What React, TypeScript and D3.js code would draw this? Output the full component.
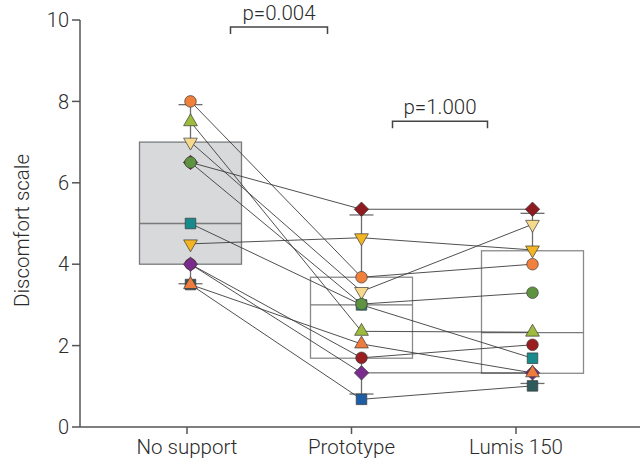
import React from "react";
import * as d3 from "d3";

const categories = ["No support", "Prototype", "Lumis 150"];
const yTicks = [0, 2, 4, 6, 8, 10];

// per-subject values: [No support, Prototype, Lumis 150]
const subjectNames = ["darkSquare", "redDiamond", "tealSquare", "redCircle", "orangeCircle", "ygTriangle", "lightTriDown", "greenCircle", "yellowTriDown", "purpleDiamond", "orangeTriangle"];
const noSupport = [3.5, 6.5, 5.0, 4.0, 8.0, 7.5, 7.0, 6.5, 4.5, 4.0, 3.5];
const prototype = [0.68, 5.35, 3.0, 1.7, 3.68, 2.35, 3.33, 3.02, 4.65, 1.33, 2.04];
const lumis = [1.01, 5.35, 1.69, 2.02, 4.0, 2.33, 4.98, 3.3, 4.35, 1.33, 1.33];
const shapes = ["square", "diamond", "square", "circle", "circle", "triUp", "triDown", "circle", "triDown", "diamond", "triUp"];
const colors = ["#2e5a5c", "#8e1b1f", "#198a8c", "#9a1d1f", "#f0803c", "#9dbb3c", "#f6d98c", "#5e9441", "#f4b522", "#7a2c8c", "#ee7c3e"];
const prototypeColorOverride: Record<number, string> = { 0: "#1e5ea6" };

// box stats per category
const boxLow = [3.52, 0.81, 1.07];
const boxQ1 = [4.0, 1.69, 1.32];
const boxMedian = [5.0, 3.0, 2.32];
const boxQ3 = [7.0, 3.68, 4.33];
const boxHigh = [7.92, 5.21, 5.25];

const pLabels = ["p=0.004", "p=1.000"];
const pPairs = [[0, 1], [1, 2]];
const pLevels = [9.83, 7.51];

const W = 640, H = 462;

function symbolPath(shape: string) {
  if (shape === "circle") return d3.symbol(d3.symbolCircle, 105)()!;
  if (shape === "square") return d3.symbol(d3.symbolSquare, 112)()!;
  if (shape === "diamond") return d3.symbol(d3.symbolSquare, 104)()!;
  return d3.symbol(d3.symbolTriangle, 82)()!;
}
function symbolRotate(shape: string) {
  if (shape === "diamond") return 45;
  if (shape === "triDown") return 180;
  return 0;
}

export default function App() {
  const y = d3.scaleLinear().domain([0, 10]).range([427, 20]);
  const xTick = d3.scalePoint<string>().domain(categories).range([187, 516]);
  const xMark = d3.scalePoint<string>().domain(categories).range([190.5, 532.5]);
  const groups = [noSupport, prototype, lumis];
  const boxW = 102;
  const capW = 24;
  const textColor = "#2b2b2b";
  const font = "Roboto, 'DejaVu Sans', sans-serif";

  return (
    <svg width={W} height={H} style={{ position: "absolute", left: 0, top: 0 }} fontFamily={font} fontWeight={300}>
      <rect width={W} height={H} fill="#fff" />
      {categories.map((c, i) => {
        const cx = xMark(c)!;
        return (
          <g key={c}>
            <line x1={cx} x2={cx} y1={y(boxHigh[i])} y2={y(boxQ3[i])} stroke="#6e6e6e" strokeWidth={1.3} />
            <line x1={cx} x2={cx} y1={y(boxQ1[i])} y2={y(boxLow[i])} stroke="#6e6e6e" strokeWidth={1.3} />
            <line x1={cx - capW / 2} x2={cx + capW / 2} y1={y(boxHigh[i])} y2={y(boxHigh[i])} stroke="#6e6e6e" strokeWidth={1.3} />
            <line x1={cx - capW / 2} x2={cx + capW / 2} y1={y(boxLow[i])} y2={y(boxLow[i])} stroke="#6e6e6e" strokeWidth={1.3} />
            <rect x={cx - boxW / 2} y={y(boxQ3[i])} width={boxW} height={y(boxQ1[i]) - y(boxQ3[i])}
              fill={i === 0 ? "#d8d9db" : "none"} stroke={i === 0 ? "#7a7b7d" : "#8a8a8a"} strokeWidth={1.3} />
            <line x1={cx - boxW / 2} x2={cx + boxW / 2} y1={y(boxMedian[i])} y2={y(boxMedian[i])} stroke="#7a7a7a" strokeWidth={1.3} />
          </g>
        );
      })}
      {subjectNames.map((s, k) => (
        <g key={s}>
          {[0, 1].map(g => (
            <line key={g} x1={xMark(categories[g])!} y1={y(groups[g][k])} x2={xMark(categories[g + 1])!} y2={y(groups[g + 1][k])}
              stroke="#3c3c3c" strokeWidth={0.9} />
          ))}
        </g>
      ))}
      {subjectNames.map((s, k) => (
        <g key={s}>
          {groups.map((vals, g) => {
            const col = g === 1 && prototypeColorOverride[k] ? prototypeColorOverride[k] : colors[k];
            return (
              <path key={g} d={symbolPath(shapes[k])}
                transform={`translate(${xMark(categories[g])},${y(vals[k])}) rotate(${symbolRotate(shapes[k])})`}
                fill={col} stroke="#3a3a3a" strokeWidth={0.7} />
            );
          })}
        </g>
      ))}
      <line x1={80} x2={80} y1={y(10)} y2={y(0)} stroke="#555" strokeWidth={1.5} />
      {yTicks.map(t => (
        <g key={t}>
          <line x1={72} x2={80} y1={y(t)} y2={y(t)} stroke="#555" strokeWidth={1.5} />
          <text x={69} y={y(t)} dy="0.36em" textAnchor="end" fontSize={20} fill={textColor}>{t}</text>
        </g>
      ))}
      <text transform={`translate(29,${(y(10) + y(0)) / 2 + 7}) rotate(-90)`} textAnchor="middle" fontSize={20.5} fill={textColor}>Discomfort scale</text>
      <line x1={80} x2={W} y1={y(0)} y2={y(0)} stroke="#555" strokeWidth={1.5} />
      {categories.map(c => (
        <g key={c}>
          <line x1={xTick(c)!} x2={xTick(c)!} y1={y(0)} y2={y(0) + 7} stroke="#555" strokeWidth={1.5} />
          <text x={xTick(c)!} y={454} textAnchor="middle" fontSize={20.5} fill={textColor}>{c}</text>
        </g>
      ))}
      {pLabels.map((lab, i) => {
        const [a, b] = pPairs[i];
        const x1 = xMark(categories[a])! + (i === 0 ? 40 : 31);
        const x2 = xMark(categories[b])! - (i === 0 ? 34 : 45);
        const yy = y(pLevels[i]);
        return (
          <g key={lab}>
            <path d={`M${x1},${yy + 7}V${yy}H${x2}V${yy + 7}`} fill="none" stroke="#444" strokeWidth={1.5} />
            <text x={(x1 + x2) / 2} y={yy - 7} textAnchor="middle" fontSize={20.5} fill={textColor}>{lab}</text>
          </g>
        );
      })}
    </svg>
  );
}
